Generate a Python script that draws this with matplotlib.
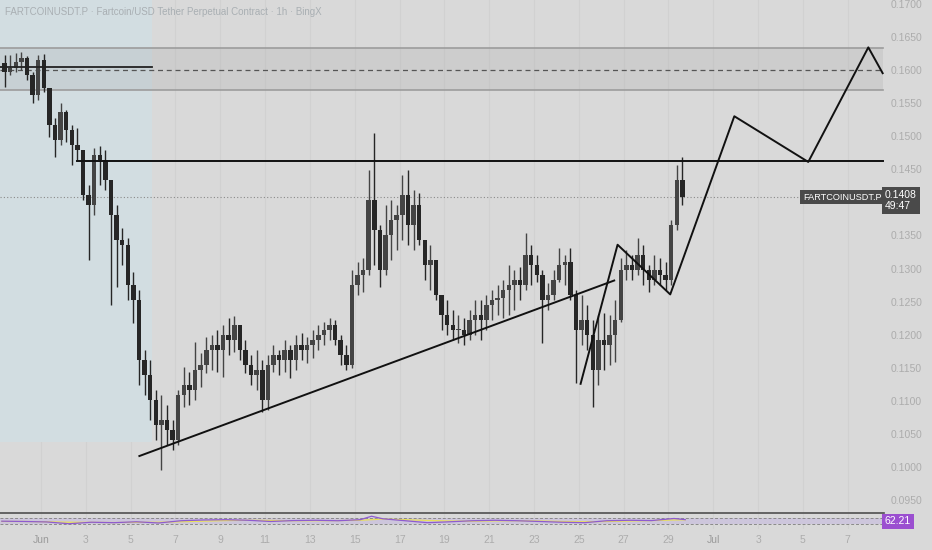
import numpy as np
import matplotlib
matplotlib.use("Agg")
import matplotlib.pyplot as plt

plt.rcParams['font.family'] = ['Liberation Sans', 'DejaVu Sans']

# 6h candles, days counted from 1 Jun 00:00, first candle opens 30 May 06:00
start_day = -1.75
step = 0.25
first_open = 0.1610
highs = [0.1622, 0.1622, 0.1625, 0.1627, 0.1621, 0.1597, 0.1622, 0.1624, 0.1570, 0.1527,
         0.1550, 0.1539, 0.1517, 0.1512, 0.1479, 0.1426, 0.1482, 0.1485, 0.1479, 0.1434,
         0.1396, 0.1361, 0.1346, 0.1295, 0.1268, 0.1177, 0.1162, 0.1117, 0.1109, 0.1094,
         0.1071, 0.1117, 0.1151, 0.1144, 0.1189, 0.1172, 0.1197, 0.1200, 0.1207, 0.1215,
         0.1225, 0.1228, 0.1212, 0.1192, 0.1169, 0.1177, 0.1162, 0.1169, 0.1184, 0.1177,
         0.1192, 0.1184, 0.1200, 0.1203, 0.1197, 0.1207, 0.1215, 0.1219, 0.1225, 0.1222,
         0.1200, 0.1184, 0.1298, 0.1310, 0.1316, 0.1449, 0.1505, 0.1366, 0.1396, 0.1403,
         0.1396, 0.1441, 0.1449, 0.1419, 0.1414, 0.1343, 0.1336, 0.1313, 0.1255, 0.1252,
         0.1237, 0.1230, 0.1225, 0.1237, 0.1252, 0.1252, 0.1260, 0.1268, 0.1275, 0.1283,
         0.1305, 0.1298, 0.1302, 0.1354, 0.1336, 0.1320, 0.1298, 0.1278, 0.1298, 0.1331,
         0.1320, 0.1331, 0.1268, 0.1260, 0.1245, 0.1222, 0.1230, 0.1233, 0.1230, 0.1252,
         0.1316, 0.1328, 0.1320, 0.1346, 0.1336, 0.1305, 0.1320, 0.1316, 0.1310, 0.1373,
         0.1456, 0.1468]
lows = [0.1574, 0.1592, 0.1597, 0.1600, 0.1585, 0.1550, 0.1554, 0.1567, 0.1499, 0.1468,
        0.1487, 0.1491, 0.1456, 0.1464, 0.1403, 0.1313, 0.1381, 0.1426, 0.1419, 0.1245,
        0.1272, 0.1305, 0.1252, 0.1218, 0.1124, 0.1109, 0.1071, 0.1041, 0.0996, 0.1034,
        0.1026, 0.1034, 0.1091, 0.1094, 0.1101, 0.1121, 0.1142, 0.1147, 0.1144, 0.1136,
        0.1169, 0.1174, 0.1162, 0.1142, 0.1124, 0.1117, 0.1083, 0.1086, 0.1144, 0.1139,
        0.1144, 0.1135, 0.1147, 0.1162, 0.1157, 0.1165, 0.1177, 0.1184, 0.1192, 0.1184,
        0.1154, 0.1147, 0.1150, 0.1260, 0.1265, 0.1290, 0.1305, 0.1272, 0.1290, 0.1313,
        0.1328, 0.1343, 0.1336, 0.1328, 0.1336, 0.1283, 0.1268, 0.1252, 0.1207, 0.1200,
        0.1192, 0.1188, 0.1184, 0.1192, 0.1200, 0.1192, 0.1207, 0.1222, 0.1230, 0.1225,
        0.1230, 0.1237, 0.1252, 0.1268, 0.1275, 0.1280, 0.1188, 0.1237, 0.1252, 0.1280,
        0.1275, 0.1252, 0.1127, 0.1184, 0.1177, 0.1091, 0.1124, 0.1147, 0.1154, 0.1159,
        0.1219, 0.1283, 0.1283, 0.1290, 0.1275, 0.1265, 0.1275, 0.1275, 0.1268, 0.1275,
        0.1358, 0.1396]
closes = [0.1597, 0.1603, 0.1612, 0.1618, 0.1592, 0.1562, 0.1615, 0.1573, 0.1517, 0.1494,
          0.1536, 0.1509, 0.1487, 0.1479, 0.1411, 0.1396, 0.1471, 0.1464, 0.1434, 0.1381,
          0.1343, 0.1336, 0.1275, 0.1252, 0.1162, 0.1139, 0.1101, 0.1064, 0.1071, 0.1056,
          0.1041, 0.1109, 0.1124, 0.1117, 0.1147, 0.1154, 0.1177, 0.1184, 0.1177, 0.1200,
          0.1192, 0.1215, 0.1177, 0.1154, 0.1139, 0.1147, 0.1101, 0.1154, 0.1169, 0.1162,
          0.1177, 0.1162, 0.1184, 0.1177, 0.1184, 0.1192, 0.1200, 0.1207, 0.1215, 0.1192,
          0.1169, 0.1154, 0.1275, 0.1290, 0.1298, 0.1403, 0.1358, 0.1298, 0.1351, 0.1373,
          0.1381, 0.1411, 0.1366, 0.1396, 0.1343, 0.1305, 0.1313, 0.1260, 0.1230, 0.1215,
          0.1207, 0.1207, 0.1200, 0.1222, 0.1230, 0.1222, 0.1245, 0.1252, 0.1255, 0.1268,
          0.1275, 0.1283, 0.1275, 0.1320, 0.1305, 0.1290, 0.1252, 0.1260, 0.1283, 0.1305,
          0.1310, 0.1260, 0.1207, 0.1222, 0.1200, 0.1147, 0.1192, 0.1184, 0.1200, 0.1222,
          0.1298, 0.1305, 0.1298, 0.1320, 0.1298, 0.1283, 0.1298, 0.1290, 0.1283, 0.1366,
          0.1434, 0.1408]
last_price = 0.1408

# RSI pane (one reading per day)
rsi_days = [-1.75, -0.75, 0.25, 1.25, 2.25, 3.25, 4.25, 5.25, 6.25, 7.25, 8.25, 9.25,
            10.25, 11.25, 12.25, 13.25, 14.25, 14.75, 15.25, 16.25, 17.25, 18.25, 19.25,
            20.25, 21.25, 22.25, 23.25, 24.25, 25.25, 26.25, 27.25, 28.25, 28.75]
rsi = [52, 50, 47, 35, 45, 42, 48, 40, 55, 60, 62, 58, 50, 56, 58, 55, 62, 85, 68, 55,
       42, 48, 55, 58, 55, 50, 45, 42, 55, 58, 56, 70, 62.21]
rsi_ma = [50, 50, 48, 45, 44, 43, 44, 45, 48, 52, 56, 58, 57, 55, 55, 56, 58, 62, 66, 62,
          57, 53, 52, 54, 55, 53, 50, 48, 50, 53, 56, 60, 61]

# drawings
zone_top, zone_bottom, zone_mid = 0.1633, 0.1569, 0.1600
range_line = 0.1605
resistance = 0.1462
trend_days = [4.39, 25.58]
trend_prices = [0.1017, 0.1282]
path_days = [24.08, 25.73, 28.08, 30.94, 34.24, 36.92, 37.56]
path_prices = [0.1126, 0.1336, 0.1261, 0.1530, 0.1461, 0.1634, 0.1595]
blue_end, blue_bottom = 4.94, 0.1038

price_ticks = [0.0950, 0.1000, 0.1050, 0.1100, 0.1150, 0.1200, 0.1250, 0.1300, 0.1350,
               0.1400, 0.1450, 0.1500, 0.1550, 0.1600, 0.1650, 0.1700]
date_pos = [0, 2, 4, 6, 8, 10, 12, 14, 16, 18, 20, 22, 24, 26, 28, 30, 32, 34, 36]
date_labels = ['Jun', '3', '5', '7', '9', '11', '13', '15', '17', '19', '21', '23',
               '25', '27', '29', 'Jul', '3', '5', '7']

bg = '#d9d9d9'
txt = '#acacac'
x0, x1 = -1.83, 37.62
y0, y1 = 0.0931, 0.17055

fig = plt.figure(figsize=(9.32, 5.5), dpi=100, facecolor=bg)
ax = fig.add_axes([0, 0.0673, 0.9485, 0.9327], facecolor=bg)
ax2 = fig.add_axes([0, 0.0382, 0.9485, 0.0273], facecolor=bg, sharex=ax)

for d in date_pos:
    ax.axvline(d, color='#d1d1d1', lw=0.8, zorder=0)
    ax2.axvline(d, color='#d1d1d1', lw=0.8, zorder=0)

# shaded areas
ax.fill_between([x0, blue_end], blue_bottom, 0.175, color='#d2dde1', zorder=1, lw=0)
ax.fill_between([x0, 37.56], zone_bottom, zone_top, color='#9a9a9a', alpha=0.18, zorder=1, lw=0)
ax.plot([x0, 37.56], [zone_top, zone_top], color='#9c9c9c', lw=1.2, zorder=2)
ax.plot([x0, 37.56], [zone_bottom, zone_bottom], color='#9c9c9c', lw=1.2, zorder=2)
ax.plot([x0, 37.56], [zone_mid, zone_mid], color='#555555', lw=0.9, ls=(0, (4, 3)), zorder=2)
ax.plot([x0, blue_end], [range_line, range_line], color='#222222', lw=1.3, zorder=4)

# candles
opens = [first_open] + closes[:-1]
for k in range(len(closes)):
    tc = start_day + step * k + step / 2
    o, c = opens[k], closes[k]
    col = '#444444' if c >= o else '#262626'
    ax.vlines(tc, lows[k], highs[k], color=col, lw=1.0, zorder=3)
    ax.bar(tc, max(abs(c - o), 0.00015), bottom=min(o, c), width=0.2, color=col, lw=0, zorder=3)

ax.axhline(last_price, color='#8a8a8a', lw=0.8, ls=(0, (1, 2)), zorder=2)
ax.plot([1.59, 37.56], [resistance, resistance], color='#111111', lw=1.4, zorder=4)
ax.plot(trend_days, trend_prices, color='#111111', lw=1.4, zorder=4)
ax.plot(path_days, path_prices, color='#111111', lw=1.4, zorder=4)

ax.set_xlim(x0, x1)
ax.set_ylim(y0, y1)
ax.yaxis.tick_right()
ax.set_yticks(price_ticks)
# the 0.1400 label sits under the last price badge
ax.set_yticklabels(['' if abs(p - 0.14) < 1e-9 else '%.4f' % p for p in price_ticks])
ax.tick_params(axis='y', length=0, pad=5, labelsize=7.5, labelcolor=txt)
ax.tick_params(axis='x', length=0, labelbottom=False)
for s in ['top', 'right', 'left']:
    ax.spines[s].set_visible(False)
ax.spines['bottom'].set_color('#505050')
ax.spines['bottom'].set_linewidth(1.2)

ax.text(0.006, 0.976, 'FARTCOINUSDT.P · Fartcoin/USD Tether Perpetual Contract · 1h · BingX',
        transform=ax.transAxes, fontsize=7.0, color='#a9afb3', va='center', ha='left')
ax.text(0.9975, (last_price - y0) / (y1 - y0), 'FARTCOINUSDT.P',
        transform=ax.transAxes, fontsize=6.6, color='white', ha='right', va='center',
        bbox=dict(boxstyle='square,pad=0.3', fc='#4a4a4a', ec='none'), zorder=6)
fig.text(0.9495, 0.6355, '0.1408\n49:47', fontsize=7.5, color='white', ha='left', va='center',
         linespacing=1.05,
         bbox=dict(boxstyle='square,pad=0.3', fc='#4a4a4a', ec='none'), zorder=6)

# RSI pane
ax2.fill_between([x0, x1], 30, 70, color='#cdc6dc', zorder=1, lw=0)
ax2.axhline(70, color='#8a8a8a', lw=0.7, ls=(0, (3, 2)), zorder=2)
ax2.axhline(30, color='#8a8a8a', lw=0.7, ls=(0, (3, 2)), zorder=2)
ax2.plot(rsi_days, rsi_ma, color='#e8e05a', lw=0.9, zorder=3)
ax2.plot(rsi_days, rsi, color='#8e5bd0', lw=0.9, zorder=3)
ax2.set_ylim(0, 100)
ax2.set_yticks([])
for s in ['top', 'right', 'left', 'bottom']:
    ax2.spines[s].set_visible(False)
ax2.set_xticks(date_pos)
ax2.set_xticklabels(date_labels)
ax2.tick_params(axis='x', length=0, pad=4, labelsize=7.5, labelcolor=txt)
for lab in ax2.get_xticklabels():
    if lab.get_text() in ('Jun', 'Jul'):
        lab.set_color('#9a9a9a')
fig.text(0.9495, 0.0382 + 0.0273 / 2, '62.21', fontsize=7.5, color='white', ha='left', va='center',
         bbox=dict(boxstyle='square,pad=0.25', fc='#9b4fd0', ec='none'), zorder=6)

fig.savefig('out.png', dpi=100, facecolor=bg)
